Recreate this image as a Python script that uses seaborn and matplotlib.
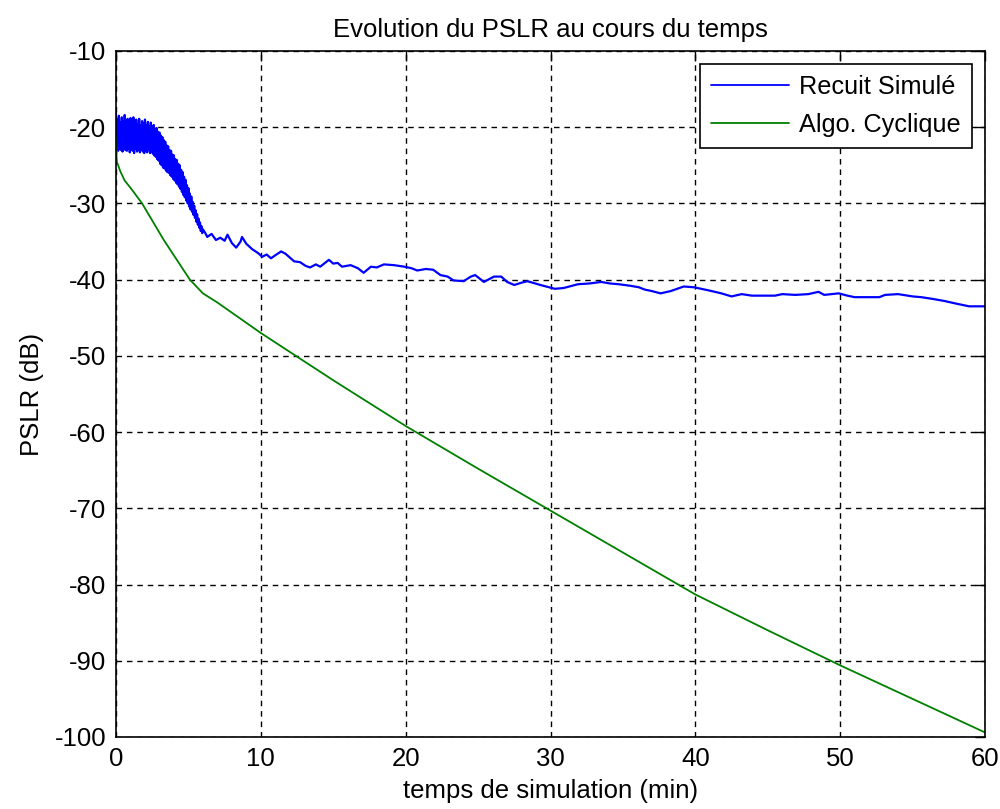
import numpy as np
import pandas as pd
import matplotlib
matplotlib.use("Agg")
import matplotlib.pyplot as plt
import seaborn as sns

# ---- data ----
rs_time = [0.00, 0.05, 0.10, 0.15, 0.20, 0.25, 0.30, 0.35, 0.40, 0.45,
           0.50, 0.55, 0.60, 0.65, 0.70, 0.75, 0.80, 0.85, 0.90, 0.95,
           1.00, 1.05, 1.10, 1.15, 1.20, 1.25, 1.30, 1.35, 1.40, 1.45,
           1.50, 1.55, 1.60, 1.65, 1.70, 1.75, 1.80, 1.85, 1.90, 1.95,
           2.00, 2.05, 2.10, 2.15, 2.20, 2.25, 2.30, 2.35, 2.40, 2.45,
           2.50, 2.55, 2.60, 2.65, 2.70, 2.75, 2.80, 2.85, 2.90, 2.95,
           3.00, 3.05, 3.10, 3.15, 3.20, 3.25, 3.30, 3.35, 3.40, 3.45,
           3.50, 3.55, 3.60, 3.65, 3.70, 3.75, 3.80, 3.85, 3.90, 3.95,
           4.00, 4.05, 4.10, 4.15, 4.20, 4.25, 4.30, 4.35, 4.40, 4.45,
           4.50, 4.55, 4.60, 4.65, 4.70, 4.75, 4.80, 4.85, 4.90, 4.95,
           5.00, 5.05, 5.10, 5.15, 5.20, 5.25, 5.30, 5.35, 5.40, 5.45,
           5.50, 5.55, 5.60, 5.65, 5.70, 5.75, 5.80, 5.85, 5.90, 5.95,
           6.0, 6.2, 6.3, 6.6, 6.9, 7.2, 7.5, 7.7, 8.0, 8.3,
           8.6, 8.7, 9.0, 9.4, 9.8, 10.1, 10.4, 10.7, 11.0, 11.4,
           11.7, 12.0, 12.3, 12.7, 13.1, 13.4, 13.8, 14.1, 14.7, 15.0,
           15.3, 15.6, 16.2, 16.7, 17.1, 17.6, 18.0, 18.5, 19.2, 19.9,
           20.4, 20.8, 21.4, 21.9, 22.4, 22.9, 23.3, 24.0, 24.5, 24.8,
           25.4, 26.1, 26.6, 27.0, 27.5, 28.0, 28.4, 29.3, 30.3, 30.9,
           31.9, 32.7, 33.5, 34.1, 34.7, 35.5, 36.1, 36.5, 37.0, 37.6,
           38.3, 39.2, 39.9, 40.4, 40.9, 41.8, 42.5, 43.2, 43.9, 44.7,
           45.5, 46.0, 46.9, 47.8, 48.5, 48.9, 49.9, 50.5, 51.0, 52.7,
           53.1, 54.0, 55.0, 55.6, 56.3, 57.2, 57.9, 58.9, 60.0]
rs_pslr = [-18.2, -22.9, -19.0, -23.1, -18.5, -22.8, -19.4, -23.0, -18.7, -23.2,
           -19.2, -22.7, -18.4, -23.0, -19.5, -23.1, -18.9, -22.8, -19.6, -23.3,
           -18.8, -22.9, -19.3, -23.1, -18.7, -23.4, -19.7, -22.8, -19.0, -23.2,
           -19.6, -23.0, -18.9, -23.3, -19.8, -22.9, -19.2, -23.2, -19.5, -23.4,
           -19.0, -23.1, -19.8, -23.3, -19.3, -23.0, -19.9, -23.4, -19.4, -23.2,
           -19.9, -23.5, -19.7, -23.7, -20.2, -23.9, -20.1, -24.2, -20.6, -24.4,
           -20.7, -24.8, -21.1, -25.0, -21.3, -25.3, -21.7, -25.4, -21.9, -25.7,
           -22.4, -25.9, -22.5, -26.0, -23.0, -26.3, -23.1, -26.5, -23.6, -26.8,
           -23.7, -27.0, -24.2, -27.3, -24.3, -27.5, -24.8, -27.8, -25.0, -28.1,
           -25.6, -28.5, -25.9, -28.9, -26.5, -29.2, -26.9, -29.6, -27.6, -30.0,
           -28.0, -30.4, -28.7, -30.8, -29.1, -31.1, -29.8, -31.5, -30.3, -31.9,
           -30.9, -32.4, -31.4, -32.8, -32.0, -33.2, -32.5, -33.6, -33.0, -33.9,
           -33.4, -34.0, -34.4, -34.0, -34.8, -34.5, -34.9, -34.1, -35.2, -35.8,
           -35.0, -34.4, -35.3, -36.0, -36.5, -37.0, -36.7, -37.2, -36.8, -36.3,
           -36.6, -37.1, -37.6, -37.7, -38.2, -38.4, -38.0, -38.3, -37.4, -37.9,
           -37.8, -38.3, -38.1, -38.5, -39.1, -38.3, -38.4, -38.0, -38.1, -38.3,
           -38.5, -38.8, -38.6, -38.7, -39.4, -39.6, -40.1, -40.2, -39.6, -39.4,
           -40.3, -39.6, -39.6, -40.3, -40.7, -40.4, -40.2, -40.7, -41.2, -41.1,
           -40.6, -40.5, -40.3, -40.5, -40.6, -40.8, -41.0, -41.3, -41.5, -41.8,
           -41.5, -40.9, -41.0, -41.2, -41.4, -41.8, -42.2, -41.9, -42.1, -42.1,
           -42.1, -41.9, -42.0, -41.9, -41.6, -42.0, -41.8, -42.1, -42.3, -42.3,
           -42.0, -41.9, -42.2, -42.3, -42.5, -42.8, -43.1, -43.5, -43.5]

ac_time = [0.0, 0.05, 0.3, 0.6, 1.1, 1.8, 3.3, 5.1, 6.0, 7.0,
           10.0, 15.0, 20.0, 25.0, 30.0, 35.0, 40.0, 45.0, 50.0, 55.0, 60.0]
ac_pslr = [-21.3, -24.5, -25.8, -27.0, -28.2, -30.0, -34.8, -40.0, -41.8, -43.0,
           -47.0, -53.2, -59.2, -64.8, -70.3, -75.8, -81.3, -86.0, -90.6, -95.0, -99.4]

series_names = ["Recuit Simulé", "Algo. Cyclique"]
x_ticks = [0, 10, 20, 30, 40, 50, 60]
y_ticks = [-100, -90, -80, -70, -60, -50, -40, -30, -20, -10]

title_text = "Evolution du PSLR au cours du temps"
x_label = "temps de simulation (min)"
y_label = "PSLR (dB)"

# ---- build frame ----
df = pd.concat([
    pd.DataFrame({"t": rs_time, "pslr": rs_pslr, "serie": series_names[0]}),
    pd.DataFrame({"t": ac_time, "pslr": ac_pslr, "serie": series_names[1]}),
], ignore_index=True)

sns.set_style("white")
plt.rcParams["font.family"] = ["Liberation Sans", "DejaVu Sans"]
plt.rcParams["axes.unicode_minus"] = False
plt.rcParams["text.color"] = "black"
plt.rcParams["axes.labelcolor"] = "black"

fig = plt.figure(figsize=(10, 8.09), dpi=100)
ax = fig.add_axes([0.116, 0.089, 0.869, 0.848])

sns.lineplot(data=df, x="t", y="pslr", hue="serie", sort=False, estimator=None,
             palette={series_names[0]: "#0000ff", series_names[1]: "#008000"},
             linewidth=1.3, ax=ax, legend=True)
ax.lines[0].set_linewidth(1.6)

ax.set_xlim(0, 60)
ax.set_ylim(-100, -10)
ax.set_xticks(x_ticks)
ax.set_yticks(y_ticks)
ax.grid(True, color="black", linestyle=(0, (4, 3.5)), linewidth=1.0)
ax.set_axisbelow(True)
for s in ax.spines.values():
    s.set_color("black")
    s.set_linewidth(1.2)
    s.set_visible(True)
ax.tick_params(direction="in", length=7, width=1, top=True, right=True,
               labelsize=18.5, colors="black", pad=7)

ax.set_title(title_text, fontsize=18.5, pad=10, color="black")
ax.set_xlabel(x_label, fontsize=18.5, labelpad=6)
ax.set_ylabel(y_label, fontsize=18.5, labelpad=8)

leg = ax.legend(loc="upper right", fontsize=18.2, frameon=True, fancybox=False,
                edgecolor="black", framealpha=1, handlelength=3.1,
                borderaxespad=0.5, borderpad=0.45, labelspacing=0.55,
                handletextpad=0.4)
leg.get_frame().set_linewidth(1.2)

fig.savefig("out.png", dpi=100)
